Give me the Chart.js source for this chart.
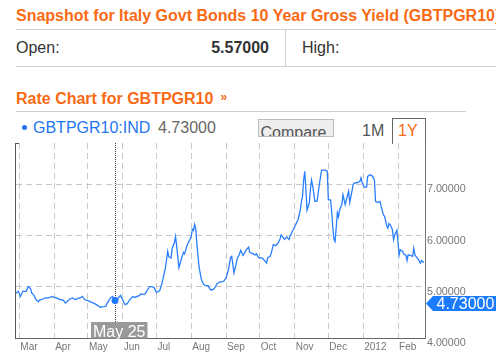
<!DOCTYPE html>
<html><head><meta charset="utf-8">
<script src="https://cdn.jsdelivr.net/npm/chart.js@4.4.1/dist/chart.umd.min.js"></script>
<style>
html,body{margin:0;padding:0;background:#fff;width:496px;height:359px;overflow:hidden;font-family:"Liberation Sans",Arial,Helvetica,sans-serif;}
.a{position:absolute;white-space:nowrap;font-size:16px;line-height:16px;}
.hl{position:absolute;height:1px;background:#cfcfcf;}
#cv{position:absolute;left:0;top:0;z-index:0;}
</style></head><body>
<div class="a" style="left:16px;top:8px;font-weight:bold;color:#fa6a14;">Snapshot for Italy Govt Bonds 10 Year Gross Yield (GBTPGR10)</div>
<div class="hl" style="left:16px;top:29px;width:480px;"></div>
<div class="a" style="left:16px;top:40px;color:#333;">Open:</div>
<div class="a" id="openVal" style="right:227px;top:40px;color:#333;font-weight:bold;"></div>
<div style="position:absolute;left:285px;top:30px;width:1px;height:36px;background:#cfcfcf;"></div>
<div class="a" style="left:302px;top:40px;color:#333;">High:</div>
<div class="hl" style="left:16px;top:66px;width:480px;"></div>
<div class="a" style="left:16px;top:91px;font-weight:bold;color:#fa6a14;">Rate Chart for GBTPGR10<span style="font-size:12px;margin-left:7px;position:relative;top:-3px;">»</span></div>
<div class="hl" style="left:16px;top:111px;width:450px;"></div>
<div style="position:absolute;left:21.5px;top:125px;width:5px;height:5px;border-radius:50%;background:#1f74f0;"></div>
<div class="a" id="legName" style="left:33px;top:119.5px;color:#1f74f0;"></div>
<div class="a" id="legVal" style="left:158px;top:119.5px;color:#666;"></div>
<div style="position:absolute;left:258px;top:119px;width:74px;height:16px;border:1px solid #bdbdbd;background:#eeeeee;overflow:hidden;">
  <div class="a" style="left:1.5px;top:4.5px;color:#555;">Compare</div>
</div>
<div class="a" style="left:362px;top:123px;color:#555;">1M</div>
<div style="position:absolute;left:392px;top:118px;width:32px;height:25px;border:1px solid #666;border-bottom:none;"></div>
<div class="a" style="left:398px;top:123px;color:#fa6a14;">1Y</div>
<canvas id="cv" width="496" height="359"></canvas>
<script>
// ---- data ----
const seriesName = 'GBTPGR10:IND';
const openValue = 5.57;
const hoverDate = '2011-05-25';
const hoverLabel = 'May 25';
const hoverValue = 4.73;
const rangeStart = '2011-02-26';
const rangeEnd = '2012-02-25';
const monthTickDates = ['2011-03-01','2011-04-01','2011-05-01','2011-06-01','2011-07-01','2011-08-01','2011-09-01','2011-10-01','2011-11-01','2011-12-01','2012-01-01','2012-02-01'];
const monthTickLabels = ['Mar','Apr','May','Jun','Jul','Aug','Sep','Oct','Nov','Dec','2012','Feb'];
const yTicks = [4, 5, 6, 7];
const yMin = 4, yMax = 7.8;
const dates = [
'2011-02-26','2011-02-28','2011-03-02','2011-03-04','2011-03-07','2011-03-09','2011-03-11','2011-03-12','2011-03-14','2011-03-16',
'2011-03-18','2011-03-19','2011-03-22','2011-03-24','2011-03-27','2011-03-30','2011-03-31','2011-04-03','2011-04-06','2011-04-09',
'2011-04-11','2011-04-13','2011-04-15','2011-04-17','2011-04-20','2011-04-22','2011-04-24','2011-04-26','2011-04-28','2011-05-01',
'2011-05-04','2011-05-07','2011-05-10','2011-05-12','2011-05-15','2011-05-17','2011-05-18','2011-05-21','2011-05-23','2011-05-25',
'2011-05-28','2011-05-30','2011-06-01','2011-06-03','2011-06-05','2011-06-07','2011-06-10','2011-06-12','2011-06-14','2011-06-16',
'2011-06-17','2011-06-19','2011-06-21','2011-06-23','2011-06-25','2011-06-27','2011-06-29','2011-07-01','2011-07-03','2011-07-04',
'2011-07-06','2011-07-07','2011-07-09','2011-07-11','2011-07-12','2011-07-14','2011-07-15','2011-07-17','2011-07-18','2011-07-19',
'2011-07-21','2011-07-23','2011-07-25','2011-07-26','2011-07-28','2011-07-29','2011-07-31','2011-08-01','2011-08-02','2011-08-03',
'2011-08-04','2011-08-05','2011-08-06','2011-08-08','2011-08-10','2011-08-12','2011-08-14','2011-08-16','2011-08-18','2011-08-20',
'2011-08-22','2011-08-24','2011-08-26','2011-08-29','2011-08-30','2011-09-01','2011-09-03','2011-09-05','2011-09-06','2011-09-08',
'2011-09-10','2011-09-11','2011-09-12','2011-09-14','2011-09-16','2011-09-17','2011-09-19','2011-09-21','2011-09-22','2011-09-25',
'2011-09-27','2011-09-28','2011-09-30','2011-10-03','2011-10-04','2011-10-06','2011-10-07','2011-10-08','2011-10-10','2011-10-11',
'2011-10-13','2011-10-15','2011-10-17','2011-10-19','2011-10-20','2011-10-22','2011-10-23','2011-10-25','2011-10-27','2011-10-28',
'2011-10-30','2011-10-31','2011-11-02','2011-11-04','2011-11-06','2011-11-07','2011-11-08','2011-11-09','2011-11-10','2011-11-11',
'2011-11-12','2011-11-14','2011-11-15','2011-11-16','2011-11-17','2011-11-19','2011-11-21','2011-11-23','2011-11-25','2011-11-28',
'2011-11-30','2011-12-01','2011-12-03','2011-12-04','2011-12-05','2011-12-06','2011-12-07','2011-12-09','2011-12-10','2011-12-11',
'2011-12-13','2011-12-14','2011-12-16','2011-12-17','2011-12-19','2011-12-20','2011-12-22','2011-12-23','2011-12-24','2011-12-27',
'2011-12-29','2011-12-30','2011-12-31','2012-01-02','2012-01-04','2012-01-05','2012-01-07','2012-01-09','2012-01-11','2012-01-12',
'2012-01-14','2012-01-16','2012-01-17','2012-01-19','2012-01-20','2012-01-22','2012-01-23','2012-01-24','2012-01-25','2012-01-27',
'2012-01-28','2012-01-29','2012-01-31','2012-02-01','2012-02-02','2012-02-03','2012-02-05','2012-02-06','2012-02-08','2012-02-09',
'2012-02-10','2012-02-12','2012-02-14','2012-02-15','2012-02-16','2012-02-18','2012-02-19','2012-02-21','2012-02-22','2012-02-24'
];
const yields = [
4.87,4.91,4.81,4.91,4.91,5.00,4.96,4.88,4.83,4.74,
4.71,4.74,4.76,4.78,4.78,4.81,4.80,4.78,4.75,4.74,
4.68,4.72,4.76,4.78,4.75,4.77,4.78,4.81,4.75,4.73,
4.70,4.67,4.63,4.60,4.61,4.62,4.67,4.78,4.81,4.73,
4.78,4.83,4.74,4.65,4.67,4.74,4.81,4.79,4.81,4.83,
4.86,4.85,4.86,4.94,5.00,5.00,4.98,4.89,4.91,4.93,
5.07,5.17,5.37,5.69,5.58,5.56,5.75,5.86,5.98,5.79,
5.37,5.53,5.67,5.64,5.79,5.84,5.93,5.99,6.12,6.10,
6.21,6.12,5.82,5.37,5.14,5.04,5.02,5.02,4.94,4.94,
4.98,5.06,5.09,5.10,5.11,5.17,5.33,5.57,5.59,5.27,
5.45,5.56,5.59,5.71,5.61,5.64,5.72,5.77,5.67,5.64,
5.62,5.64,5.56,5.56,5.54,5.49,5.46,5.56,5.59,5.64,
5.82,5.80,5.84,5.93,6.01,5.95,5.92,5.97,5.92,5.99,
6.08,6.12,6.21,6.31,6.49,6.66,6.76,7.08,7.25,6.89,
6.49,6.63,6.89,7.08,6.97,6.66,6.67,7.00,7.27,7.27,
7.25,6.69,6.69,6.44,6.14,5.92,5.88,6.44,6.36,6.50,
6.60,6.79,6.60,6.69,6.86,6.64,6.86,6.99,7.02,7.03,
7.05,7.12,7.03,6.94,6.94,7.15,7.18,7.16,7.08,6.66,
6.64,6.66,6.56,6.40,6.37,6.18,6.14,6.23,6.21,6.11,
5.92,6.01,6.10,5.85,5.62,5.72,5.69,5.64,5.61,5.51,
5.62,5.61,5.59,5.75,5.62,5.56,5.53,5.46,5.51,5.47
];

// ---- helpers ----
const FONT = '"Liberation Sans", Arial, Helvetica, sans-serif';
const BASE = Date.UTC(2011, 2, 1);
function dayOf(s){ const p = s.split('-').map(Number); return (Date.UTC(p[0], p[1]-1, p[2]) - BASE) / 86400000; }
const fmt = v => v.toFixed(5);

document.getElementById('openVal').textContent = fmt(openValue);
document.getElementById('legName').textContent = seriesName;
document.getElementById('legVal').textContent = fmt(hoverValue);

const framePlugin = {
  id: 'frame',
  afterDraw(chart){
    const ctx = chart.ctx, a = chart.chartArea;
    const xs = chart.scales.x, ys = chart.scales.y;
    ctx.save();
    // left border
    ctx.strokeStyle = '#555'; ctx.lineWidth = 1;
    ctx.beginPath(); ctx.moveTo(a.left - 0.5, a.top); ctx.lineTo(a.left - 0.5, a.bottom + 1); ctx.stroke();
    ctx.beginPath(); ctx.moveTo(a.left - 1, a.top + 0.5); ctx.lineTo(a.left + 3, a.top + 0.5); ctx.stroke();
    // hover crosshair
    const hx = Math.round(xs.getPixelForValue(dayOf(hoverDate))) + 0.5;
    const hy = ys.getPixelForValue(hoverValue);
    ctx.font = '16px ' + FONT;
    const tw = ctx.measureText(hoverLabel).width;
    const bh = 16.5, bTop = a.bottom - bh + 0.5;
    ctx.strokeStyle = '#333'; ctx.setLineDash([1, 1]);
    ctx.beginPath(); ctx.moveTo(hx, a.top); ctx.lineTo(hx, bTop); ctx.stroke();
    ctx.setLineDash([]);
    ctx.fillStyle = '#999';
    const bLeft = hx - 24.5;
    ctx.fillRect(bLeft, bTop, tw + 4, bh);
    ctx.fillStyle = '#fff'; ctx.textBaseline = 'alphabetic'; ctx.textAlign = 'left';
    ctx.fillText(hoverLabel, bLeft + 2, a.bottom - 1.5);
    // point
    ctx.fillStyle = '#1f78ff';
    ctx.beginPath(); ctx.arc(hx - 0.5, hy, 3.5, 0, Math.PI * 2); ctx.fill();
    // value badge on right axis
    const cy = hy + 3, h2 = 7.5, bx = a.right + 8;
    ctx.fillStyle = '#1a7bff';
    ctx.beginPath();
    ctx.moveTo(a.right + 1, cy); ctx.lineTo(bx, cy - h2); ctx.lineTo(chart.width, cy - h2);
    ctx.lineTo(chart.width, cy + h2); ctx.lineTo(bx, cy + h2); ctx.closePath(); ctx.fill();
    ctx.fillStyle = '#fff';
    ctx.fillText(fmt(hoverValue), bx + 3.5, cy + 5.5);
    ctx.restore();
  }
};

new Chart(document.getElementById('cv'), {
  type: 'line',
  data: { datasets: [{
    label: seriesName,
    data: dates.map((d, i) => ({ x: dayOf(d), y: yields[i] })),
    borderColor: '#2a7fff', borderWidth: 1.3, pointRadius: 0, tension: 0, fill: false
  }]},
  options: {
    responsive: false, animation: false, devicePixelRatio: 1, events: [],
    layout: { padding: { top: 143, left: 16, right: 0, bottom: 0 } },
    plugins: { legend: { display: false }, tooltip: { enabled: false } },
    scales: {
      x: {
        type: 'linear', min: dayOf(rangeStart), max: dayOf(rangeEnd),
        afterBuildTicks: s => { s.ticks = monthTickDates.map(d => ({ value: dayOf(d) })); },
        afterFit: s => { s.height = 21; },
        ticks: { autoSkip: false, maxRotation: 0, minRotation: 0, align: 'start', labelOffset: 1, padding: 3,
          color: '#777', font: { size: 10, family: FONT }, callback: (v, i) => monthTickLabels[i] },
        grid: { color: '#c8c8c8', lineWidth: 1, drawTicks: false },
        border: { display: true, color: '#666', width: 1, dash: [6, 4] }
      },
      y: {
        position: 'right', min: yMin, max: yMax,
        afterBuildTicks: s => { s.ticks = yTicks.map(v => ({ value: v })); },
        afterFit: s => { s.width = 71; },
        ticks: { padding: 2, labelOffset: 5.5, color: '#777', font: { size: 10.7, family: FONT }, callback: v => fmt(v) },
        grid: { color: '#c8c8c8', lineWidth: 1, drawTicks: false },
        border: { display: true, color: '#777', width: 1, dash: [6, 4] }
      }
    }
  },
  plugins: [framePlugin]
});
</script>
</body></html>
